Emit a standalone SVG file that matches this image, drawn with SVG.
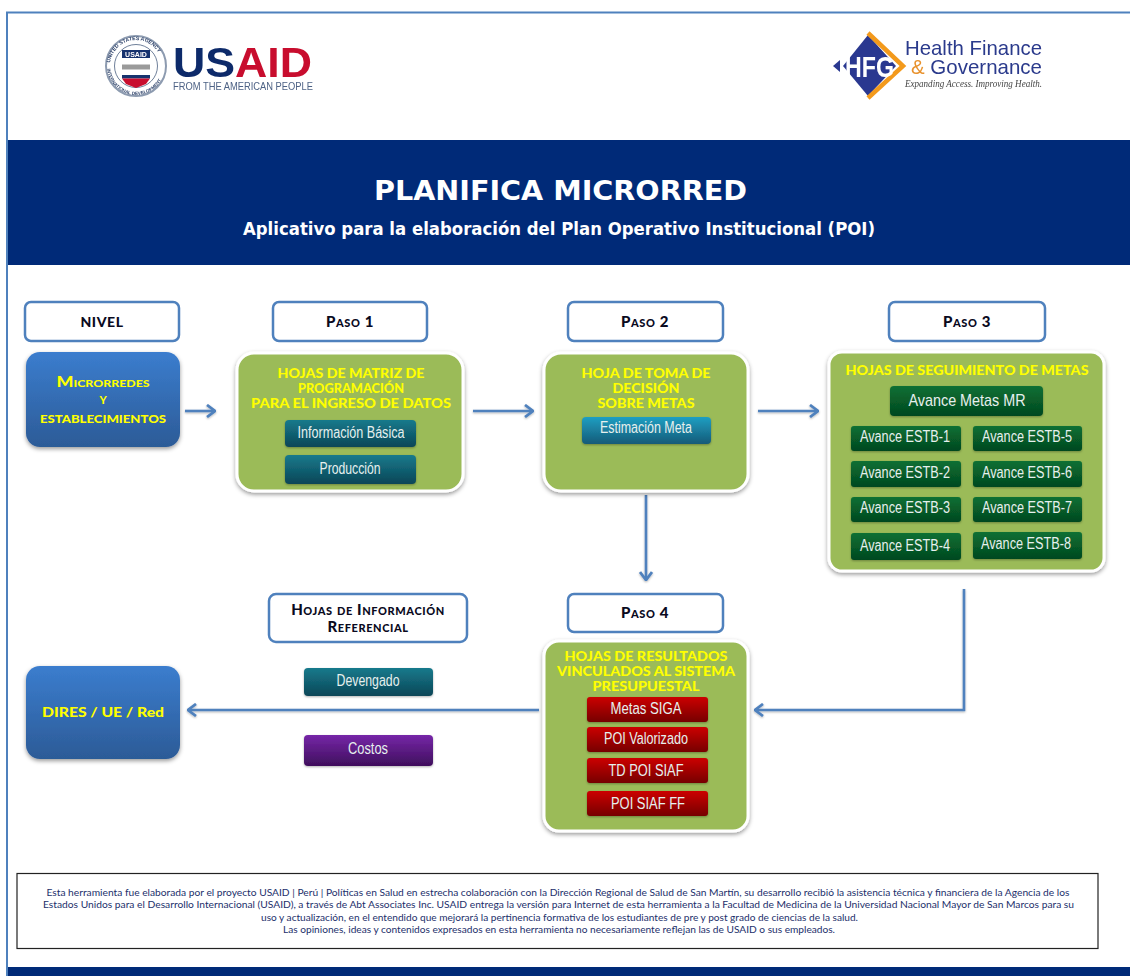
<svg xmlns="http://www.w3.org/2000/svg" width="1130" height="976" viewBox="0 0 1130 976">
<style>
.hd{fill:#fff;stroke:#4f81bd;stroke-width:2.5}
.hdt{font-family:"Lato","Liberation Sans",sans-serif;font-weight:900;fill:#0a0a1e;text-anchor:middle;font-size:15px;font-variant:small-caps;letter-spacing:.6px}
.gr{fill:#9bbb59;stroke:#fff;stroke-width:3}
.yl{font-family:"Lato","Liberation Sans",sans-serif;font-weight:900;fill:#ffff00;text-anchor:middle;font-size:14px}
.bt{font-family:"Liberation Sans",Arial,sans-serif;fill:#e6f0ee;text-anchor:middle;font-size:16px}
.cn{fill:none;stroke:#4f81bd;stroke-width:2.6}
.ft{font-family:"Lato","Liberation Sans",sans-serif;font-size:8.6px;fill:#1c2f6b}
</style>
<defs>
<filter id="sh" x="-10%" y="-10%" width="120%" height="125%"><feDropShadow dx="0" dy="2" stdDeviation="2" flood-color="#000" flood-opacity=".4"/></filter>
<filter id="ln" x="-10%" y="-10%" width="120%" height="120%"><feDropShadow dx="0" dy="1" stdDeviation=".8" flood-color="#000" flood-opacity=".3"/></filter>
<filter id="sf" x="-5%" y="-5%" width="110%" height="110%"><feGaussianBlur stdDeviation=".35"/></filter>
<linearGradient id="gBlue" x1="0" y1="0" x2="0" y2="1"><stop offset="0" stop-color="#3b7dce"/><stop offset="1" stop-color="#2c5b97"/></linearGradient>
<linearGradient id="gTeal" x1="0" y1="0" x2="0" y2="1"><stop offset="0" stop-color="#177a8c"/><stop offset="1" stop-color="#0b4657"/></linearGradient>
<linearGradient id="gEst" x1="0" y1="0" x2="0" y2="1"><stop offset="0" stop-color="#1f9fc2"/><stop offset="1" stop-color="#155a78"/></linearGradient>
<linearGradient id="gGrn" x1="0" y1="0" x2="0" y2="1"><stop offset="0" stop-color="#0a7034"/><stop offset="1" stop-color="#04481f"/></linearGradient>
<linearGradient id="gRed" x1="0" y1="0" x2="0" y2="1"><stop offset="0" stop-color="#cc0000"/><stop offset="1" stop-color="#760000"/></linearGradient>
<linearGradient id="gPur" x1="0" y1="0" x2="0" y2="1"><stop offset="0" stop-color="#7626a8"/><stop offset="1" stop-color="#3f0f5c"/></linearGradient>
<marker id="ah" viewBox="0 0 12 14" refX="11" refY="7" markerWidth="12" markerHeight="14" markerUnits="userSpaceOnUse" orient="auto"><path d="M3 1 L11 7 L3 13" fill="none" stroke="#4f81bd" stroke-width="2.8"/></marker>
</defs>
<rect width="1130" height="976" fill="#fff"/>
<path d="M7 976V12.500H1130" fill="none" stroke="#4f81bd" stroke-width="2"/>
<g id="banner">
<rect x="8" y="140" width="1122" height="125" fill="#002a78"/>
<text x="560.500" y="200" text-anchor="middle" textLength="373" lengthAdjust="spacingAndGlyphs" font-family="'DejaVu Sans',sans-serif" font-weight="700" font-size="27" fill="#fff">PLANIFICA MICRORRED</text>
<text x="559" y="235" text-anchor="middle" textLength="632" lengthAdjust="spacingAndGlyphs" font-family="'DejaVu Sans',sans-serif" font-weight="700" font-size="17" fill="#fff">Aplicativo para la elaboración del Plan Operativo Institucional (POI)</text>
</g>
<rect id="bottom-bar" x="8" y="967" width="1122" height="9" fill="#002a78"/>
<g id="logo-usaid" filter="url(#sf)">
<circle cx="136" cy="66" r="30" fill="#fff" stroke="#8d9bb0" stroke-width="2"/>
<circle cx="136" cy="66" r="21.500" fill="#fff" stroke="#4a5f80" stroke-width=".8"/>
<path id="sealT" d="M110 66A26 26 0 0 1 162 66" fill="none"/>
<path id="sealB" d="M107 66A29 29 0 0 0 165 66" fill="none"/>
<text font-family="'Liberation Sans',sans-serif" font-size="5.200" font-weight="700" fill="#33476e"><textPath href="#sealT" startOffset="4%">UNITED STATES AGENCY</textPath></text>
<text font-family="'Liberation Sans',sans-serif" font-size="4.600" font-weight="700" fill="#33476e"><textPath href="#sealB" startOffset="3%">INTERNATIONAL DEVELOPMENT</textPath></text>
<rect x="122" y="50" width="28" height="8" fill="#17306e"/>
<text x="136" y="56.800" text-anchor="middle" font-family="'Liberation Sans',sans-serif" font-size="7" font-weight="700" fill="#fff">USAID</text>
<path d="M122 67H150" stroke="#9a9a9a" stroke-width="5"/>
<rect x="122" y="75" width="28" height="3.500" fill="#17306e"/>
<path d="M122 78.500H150L146 84 136 88 126 84Z" fill="#c8102e"/>
<text x="173" y="77" textLength="139" lengthAdjust="spacingAndGlyphs" font-family="'Liberation Sans',sans-serif" font-size="43" font-weight="700"><tspan fill="#0c2a6a">US</tspan><tspan fill="#c8102e">AID</tspan></text>
<text x="173" y="89.500" textLength="140" lengthAdjust="spacingAndGlyphs" font-family="'Liberation Sans',sans-serif" font-size="10.500" fill="#4d6285">FROM THE AMERICAN PEOPLE</text>
</g>
<g id="logo-hfg" filter="url(#sf)">
<path d="M868 35L896 66 868 96 843 66Z" fill="#2b3990"/>
<path d="M840 60V72L833 66Z" fill="#2b3990"/>
<path d="M868 33L903 66 868 98" fill="none" stroke="#f39a1f" stroke-width="4.500"/>
<text x="845" y="77" textLength="49" lengthAdjust="spacingAndGlyphs" font-family="'Liberation Sans',sans-serif" font-size="30" font-weight="700" fill="#fff">HFG</text>
<text x="905" y="55" textLength="137" lengthAdjust="spacingAndGlyphs" font-family="'Liberation Sans',sans-serif" font-size="21" fill="#2b3a8c">Health Finance</text>
<text x="911" y="74" textLength="131" lengthAdjust="spacingAndGlyphs" font-family="'Liberation Sans',sans-serif" font-size="21" fill="#2b3a8c"><tspan fill="#e8912b">&amp;</tspan> Governance</text>
<text x="905" y="86.500" textLength="137" lengthAdjust="spacingAndGlyphs" font-family="'Liberation Serif',serif" font-style="italic" font-size="10" fill="#444">Expanding Access. Improving Health.</text>
</g>
<g id="connectors" filter="url(#ln)">
<path class="cn" marker-end="url(#ah)" d="M185 411H215"/>
<path class="cn" marker-end="url(#ah)" d="M473 411H533"/>
<path class="cn" marker-end="url(#ah)" d="M758 411H818"/>
<path class="cn" marker-end="url(#ah)" d="M646 495V580"/>
<path class="cn" marker-end="url(#ah)" d="M964 589V710H755"/>
<path class="cn" marker-end="url(#ah)" d="M539 710H188"/>
</g>
<g id="nivel"><rect class="hd" x="25" y="302" width="154" height="39" rx="6"/><text class="hdt" x="102" y="327" style="font-variant:normal;font-size:14px">NIVEL</text></g>
<g id="paso1"><rect class="hd" x="273" y="302" width="154" height="39" rx="6"/><text class="hdt" x="350" y="327">Paso 1</text></g>
<g id="paso2"><rect class="hd" x="568" y="302" width="155" height="39" rx="6"/><text class="hdt" x="645" y="327">Paso 2</text></g>
<g id="paso3"><rect class="hd" x="889" y="302" width="156" height="39" rx="6"/><text class="hdt" x="967" y="327">Paso 3</text></g>
<g id="paso4"><rect class="hd" x="568" y="594" width="155" height="38" rx="6"/><text class="hdt" x="645" y="618">Paso 4</text></g>
<g id="hojas-ref"><rect class="hd" x="269" y="594" width="198" height="48" rx="7"/><text class="hdt" x="368" y="615">Hojas de Información</text><text class="hdt" x="368" y="632">Referencial</text></g>
<g id="microrredes">
<rect x="26" y="352" width="154" height="95" rx="14" fill="url(#gBlue)" filter="url(#sh)"/>
<text class="yl" x="103" y="387" textLength="93" lengthAdjust="spacingAndGlyphs" style="font-variant:small-caps;font-size:14.500px">Microrredes</text>
<text class="yl" x="103" y="404" style="font-size:11px">Y</text>
<text class="yl" x="103" y="423" textLength="126" lengthAdjust="spacingAndGlyphs" style="font-size:11.500px">ESTABLECIMIENTOS</text>
</g>
<g id="dires">
<rect x="26" y="666" width="154" height="93" rx="14" fill="url(#gBlue)" filter="url(#sh)"/>
<text class="yl" x="103" y="717" textLength="122" lengthAdjust="spacingAndGlyphs">DIRES / UE / Red</text>
</g>
<g id="hojas-matriz">
<rect class="gr" x="237" y="353" width="226" height="138" rx="17" filter="url(#sh)"/>
<text class="yl" x="351" y="378" textLength="147" lengthAdjust="spacingAndGlyphs">HOJAS DE MATRIZ DE</text>
<text class="yl" x="351" y="393" textLength="106" lengthAdjust="spacingAndGlyphs">PROGRAMACIÓN</text>
<text class="yl" x="351" y="408" textLength="200" lengthAdjust="spacingAndGlyphs">PARA EL INGRESO DE DATOS</text>
<g id="informacion-basica"><rect x="285" y="420" width="131" height="27" rx="4" fill="url(#gTeal)" filter="url(#ln)"/><text class="bt" x="351" y="438" textLength="107" lengthAdjust="spacingAndGlyphs">Información  Básica</text></g>
<g id="produccion"><rect x="285" y="455" width="131" height="29" rx="4" fill="url(#gTeal)" filter="url(#ln)"/><text class="bt" x="350" y="474" textLength="61" lengthAdjust="spacingAndGlyphs">Producción</text></g>
</g>
<g id="hoja-toma">
<rect class="gr" x="544" y="353" width="204" height="138" rx="17" filter="url(#sh)"/>
<text class="yl" x="646" y="378" textLength="129" lengthAdjust="spacingAndGlyphs">HOJA DE TOMA DE</text>
<text class="yl" x="646" y="393" textLength="67" lengthAdjust="spacingAndGlyphs">DECISIÓN</text>
<text class="yl" x="646" y="408" textLength="97" lengthAdjust="spacingAndGlyphs">SOBRE METAS</text>
<g id="estimacion-meta"><rect x="582" y="417" width="129" height="27" rx="4" fill="url(#gEst)" filter="url(#ln)"/><text class="bt" x="646" y="433" textLength="92" lengthAdjust="spacingAndGlyphs">Estimación Meta</text></g>
</g>
<g id="hojas-seguimiento">
<rect class="gr" x="829" y="352" width="275" height="219" rx="13" filter="url(#sh)"/>
<text class="yl" x="967" y="375" textLength="243" lengthAdjust="spacingAndGlyphs">HOJAS DE SEGUIMIENTO  DE METAS</text>
<g id="avance-mr"><rect x="890" y="386" width="153" height="30" rx="4" fill="url(#gGrn)" filter="url(#ln)"/><text class="bt" x="967" y="406" textLength="117" lengthAdjust="spacingAndGlyphs" style="font-size:17px">Avance Metas MR</text></g>
<g id="estb1"><rect x="851" y="426" width="110" height="25" rx="3" fill="url(#gGrn)" filter="url(#ln)"/><text class="bt" x="905" y="442" textLength="90" lengthAdjust="spacingAndGlyphs">Avance ESTB-1</text></g>
<g id="estb2"><rect x="851" y="461" width="110" height="26" rx="3" fill="url(#gGrn)" filter="url(#ln)"/><text class="bt" x="905" y="478" textLength="90" lengthAdjust="spacingAndGlyphs">Avance ESTB-2</text></g>
<g id="estb3"><rect x="851" y="497" width="110" height="25" rx="3" fill="url(#gGrn)" filter="url(#ln)"/><text class="bt" x="905" y="513" textLength="90" lengthAdjust="spacingAndGlyphs">Avance ESTB-3</text></g>
<g id="estb4"><rect x="851" y="533" width="110" height="27" rx="3" fill="url(#gGrn)" filter="url(#ln)"/><text class="bt" x="905" y="551" textLength="90" lengthAdjust="spacingAndGlyphs">Avance ESTB-4</text></g>
<g id="estb5"><rect x="973" y="426" width="109" height="25" rx="3" fill="url(#gGrn)" filter="url(#ln)"/><text class="bt" x="1027" y="442" textLength="90" lengthAdjust="spacingAndGlyphs">Avance ESTB-5</text></g>
<g id="estb6"><rect x="973" y="461" width="109" height="26" rx="3" fill="url(#gGrn)" filter="url(#ln)"/><text class="bt" x="1027" y="478" textLength="90" lengthAdjust="spacingAndGlyphs">Avance ESTB-6</text></g>
<g id="estb7"><rect x="973" y="497" width="109" height="25" rx="3" fill="url(#gGrn)" filter="url(#ln)"/><text class="bt" x="1027" y="513" textLength="90" lengthAdjust="spacingAndGlyphs">Avance ESTB-7</text></g>
<g id="estb8"><rect x="973" y="532" width="109" height="27" rx="3" fill="url(#gGrn)" filter="url(#ln)"/><text class="bt" x="1026" y="549" textLength="90" lengthAdjust="spacingAndGlyphs">Avance ESTB-8</text></g>
</g>
<g id="hojas-resultados">
<rect class="gr" x="544" y="641" width="204" height="190" rx="15" filter="url(#sh)"/>
<text class="yl" x="646" y="661" textLength="163" lengthAdjust="spacingAndGlyphs">HOJAS DE RESULTADOS</text>
<text class="yl" x="646" y="676" textLength="178" lengthAdjust="spacingAndGlyphs">VINCULADOS AL SISTEMA</text>
<text class="yl" x="646" y="691" textLength="107" lengthAdjust="spacingAndGlyphs">PRESUPUESTAL</text>
<g id="metas-siga"><rect x="587" y="697" width="121" height="25" rx="3" fill="url(#gRed)" filter="url(#ln)"/><text class="bt" x="646" y="714" textLength="71" lengthAdjust="spacingAndGlyphs">Metas SIGA</text></g>
<g id="poi-valorizado"><rect x="587" y="727" width="121" height="25" rx="3" fill="url(#gRed)" filter="url(#ln)"/><text class="bt" x="646" y="744" textLength="84" lengthAdjust="spacingAndGlyphs">POI Valorizado</text></g>
<g id="td-poi-siaf"><rect x="587" y="758" width="121" height="25" rx="3" fill="url(#gRed)" filter="url(#ln)"/><text class="bt" x="646" y="776" textLength="75" lengthAdjust="spacingAndGlyphs">TD POI SIAF</text></g>
<g id="poi-siaf-ff"><rect x="587" y="791" width="121" height="25" rx="3" fill="url(#gRed)" filter="url(#ln)"/><text class="bt" x="648" y="809" textLength="74" lengthAdjust="spacingAndGlyphs">POI SIAF FF</text></g>
</g>
<g id="devengado"><rect x="304" y="668" width="129" height="28" rx="4" fill="url(#gTeal)" filter="url(#ln)"/><text class="bt" x="368" y="686" textLength="63" lengthAdjust="spacingAndGlyphs">Devengado</text></g>
<g id="costos"><rect x="304" y="735" width="129" height="31" rx="4" fill="url(#gPur)" filter="url(#ln)"/><text class="bt" x="368" y="754" textLength="40" lengthAdjust="spacingAndGlyphs">Costos</text></g>
<g id="nota">
<rect x="17" y="873.500" width="1081" height="75" fill="#fff" stroke="#222" stroke-width="1.200"/>
<text class="ft" x="46.500" y="895.500" textLength="1023" lengthAdjust="spacingAndGlyphs">Esta herramienta fue elaborada  por el proyecto USAID | Perú | Políticas en Salud en estrecha colaboración  con la Dirección Regional de Salud de San Martín, su desarrollo  recibió la asistencia técnica y financiera de la Agencia de los</text>
<text class="ft" x="43" y="908" textLength="1031" lengthAdjust="spacingAndGlyphs">Estados Unidos para el Desarrollo  Internacional (USAID), a través de Abt Associates Inc. USAID entrega la versión para Internet de esta herramienta  a la Facultad de Medicina de la Universidad Nacional Mayor de San Marcos para su</text>
<text class="ft" x="261" y="920.500" textLength="597" lengthAdjust="spacingAndGlyphs">uso y actualización,  en el entendido que mejorará la pertinencia formativa de los estudiantes de pre y post grado  de ciencias de la salud.</text>
<text class="ft" x="283" y="933" textLength="552" lengthAdjust="spacingAndGlyphs">Las opiniones,  ideas y contenidos expresados en esta herramienta no necesariamente reflejan las de USAID o sus empleados.</text>
</g>
</svg>
